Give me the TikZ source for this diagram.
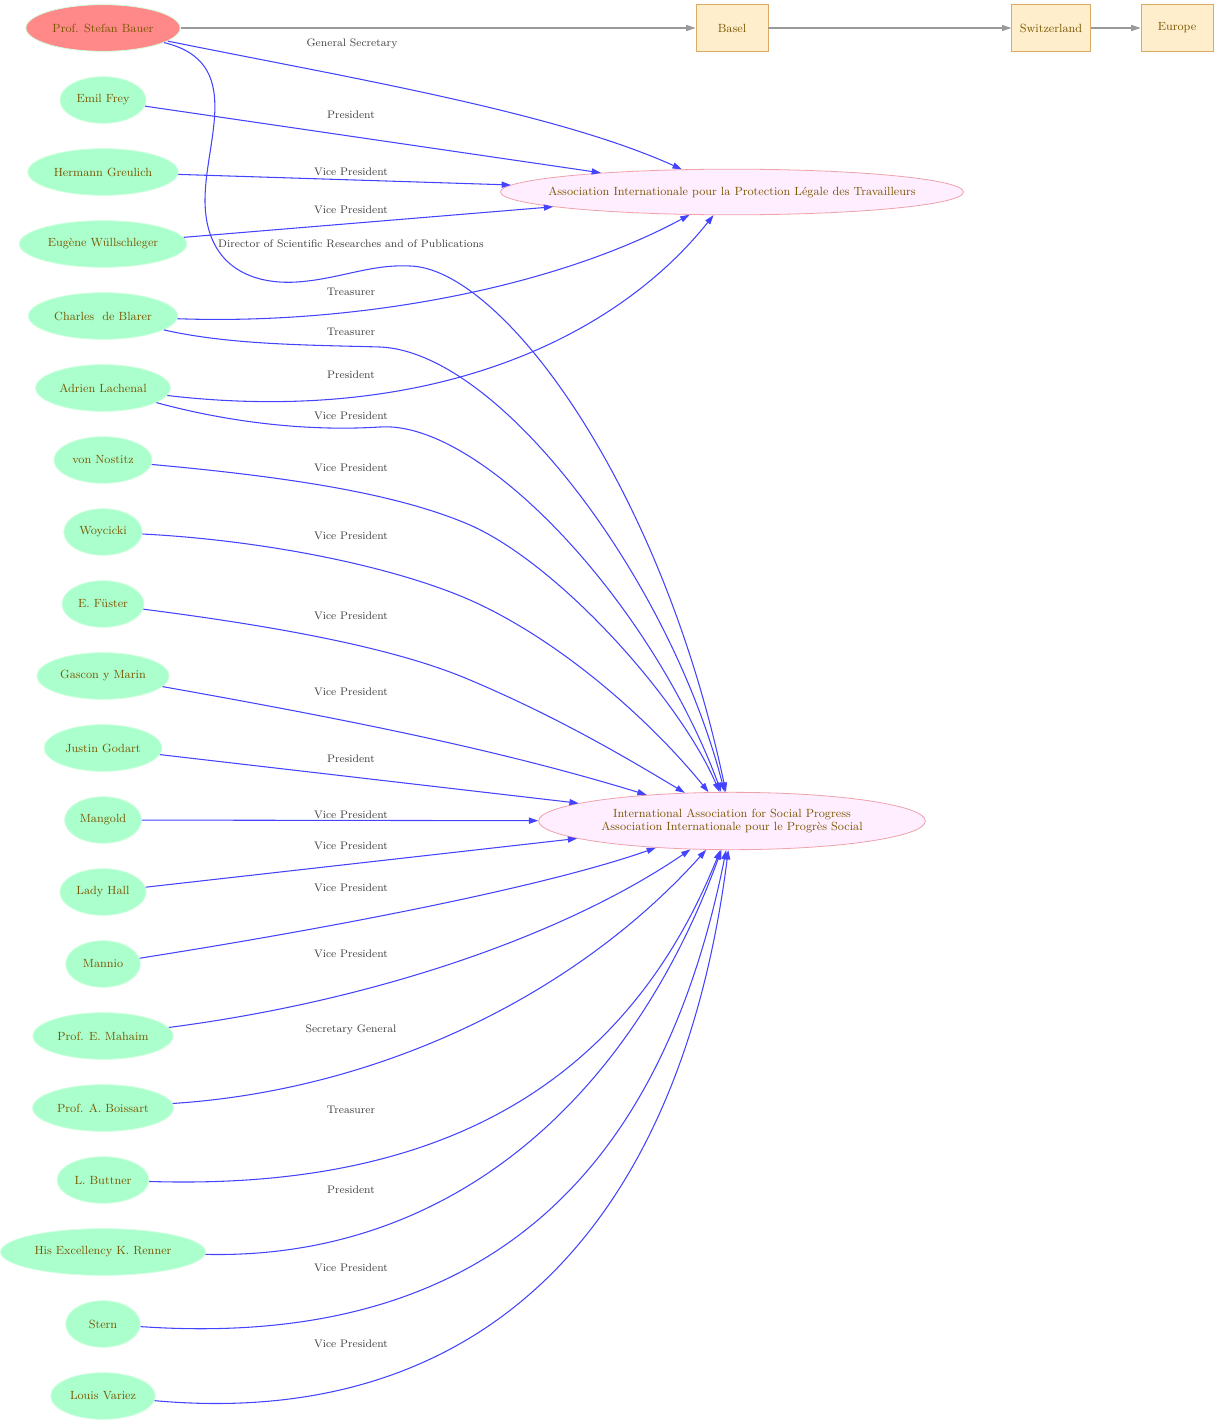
\documentclass[tikz,border=0pt]{standalone}
\usepackage{tikz}
\usetikzlibrary{positioning}
\usetikzlibrary{shapes.geometric}
\usetikzlibrary{arrows.meta}
\definecolor{persfill}{HTML}{AAFFCC}
\definecolor{persline}{HTML}{D2FFE0}
\definecolor{chieffill}{HTML}{FF8888}
\definecolor{orgfill}{HTML}{FFEEFF}
\definecolor{orgline}{HTML}{EEA2AA}
\definecolor{placefill}{HTML}{FFEECC}
\definecolor{placeline}{HTML}{DDAA66}
\definecolor{nametext}{HTML}{7A5600}
\definecolor{labtext}{HTML}{404040}
\definecolor{roleblue}{HTML}{4444FF}
\definecolor{locgray}{HTML}{999999}
\tikzset{>={Triangle[length=7pt,width=4.6pt]}}
\tikzset{person/.style={ellipse, draw=persline, fill=persfill, line width=0.6pt, minimum width=56pt, minimum height=35pt, inner xsep=3pt, text=nametext, font=\fontsize{8.9}{10}\selectfont}}
\tikzset{chief/.style={person, fill=chieffill}}
\tikzset{org/.style={ellipse, draw=orgline, fill=orgfill, line width=0.6pt, align=center, text=nametext, font=\fontsize{8.9}{10}\selectfont}}
\tikzset{place/.style={rectangle, draw=placeline, fill=placefill, line width=0.7pt, minimum width=54pt, minimum height=35pt, inner xsep=6pt, text=nametext, font=\fontsize{8.9}{10}\selectfont}}
\tikzset{ed/.style={inner sep=1pt, text=labtext, font=\fontsize{8.2}{9}\selectfont}}
\tikzset{role/.style={->, draw=roleblue, line width=0.8pt}}
\tikzset{loc/.style={->, draw=locgray, line width=0.8pt}}
\begin{document}
\begin{tikzpicture}[x=0.75pt, y=-0.75pt, node distance=54pt]
\useasboundingbox (0,0) rectangle (1218,1427);

% people
\node (bauer) [chief] at (103,28) {Prof. Stefan Bauer};
\node (frey) [person, below of=bauer] {Emil Frey};
\node (greulich) [person, below of=frey] {Hermann Greulich};
\node (wuell) [person, below of=greulich] {Eugène Wüllschleger};
\node (blarer) [person, below of=wuell] {Charles~ de Blarer};
\node (lachenal) [person, below of=blarer] {Adrien Lachenal};
\node (nostitz) [person, below of=lachenal] {von Nostitz};
\node (woycicki) [person, below of=nostitz] {Woycicki};
\node (fuester) [person, below of=woycicki] {E. Füster};
\node (gascon) [person, below of=fuester] {Gascon y Marin};
\node (godart) [person, below of=gascon] {Justin Godart};
\node (mangold) [person, below of=godart] {Mangold};
\node (hall) [person, below of=mangold] {Lady Hall};
\node (mannio) [person, below of=hall] {Mannio};
\node (mahaim) [person, below of=mannio] {Prof. E. Mahaim};
\node (boissart) [person, below of=mahaim] {Prof. A. Boissart};
\node (buttner) [person, below of=boissart] {L. Buttner};
\node (renner) [person, below of=buttner] {His Excellency K. Renner};
\node (stern) [person, below of=renner] {Stern};
\node (variez) [person, below of=stern] {Louis Variez};

% places and associations
\node (basel) [place] at (732,28) {Basel};
\node (swiss) [place] at (1051,28) {Switzerland};
\node (europe) [place] at (1177,28) {Europe};
\node (aplt) [org, inner xsep=-15pt, inner ysep=8pt] at (732,192) {Association Internationale pour la Protection Légale des Travailleurs};
\node (iasp) [org, inner xsep=4.5pt, inner ysep=6pt, minimum height=43pt] at (732,821) {International Association for Social Progress\\Association Internationale pour le Progrès Social};

\draw[loc] (bauer) -- (basel);
\draw[loc] (basel) -- (swiss);
\draw[loc] (swiss) -- (europe);

% roles in the first association
\draw[role] (bauer) .. controls (350,78) and (555,112) .. (aplt);
\draw[role] (frey) -- (aplt);
\draw[role] (greulich) -- (aplt);
\draw[role] (wuell) -- (aplt);
\draw[role] (blarer) .. controls (350,325) and (550,290) .. (aplt);
\draw[role] (lachenal) .. controls (420,425) and (610,345) .. (aplt);

% roles in the second association
\draw[role] (bauer) .. controls (245,62) and (205,140) .. (205,200) .. controls (205,265) and (250,285) .. (297,282) .. controls (340,279) and (370,264) .. (410,266) .. controls (500,268) and (660,480) .. (iasp);
\draw[role] (blarer) .. controls (230,345) and (310,345) .. (380,347) .. controls (500,352) and (670,580) .. (iasp);
\draw[role] (lachenal) .. controls (220,420) and (300,432) .. (380,427) .. controls (480,420) and (650,600) .. (iasp);
\draw[role] (nostitz) .. controls (300,478) and (400,495) .. (470,525) .. controls (560,565) and (680,700) .. (iasp);
\draw[role] (woycicki) .. controls (260,540) and (390,565) .. (470,600) .. controls (560,640) and (650,720) .. (iasp);
\draw[role] (fuester) .. controls (290,628) and (400,650) .. (470,680) .. controls (560,718) and (630,760) .. (iasp);
\draw[role] (gascon) .. controls (350,720) and (500,750) .. (iasp);
\draw[role] (godart) -- (iasp);
\draw[role] (mangold) -- (iasp);
\draw[role] (hall) -- (iasp);
\draw[role] (mannio) .. controls (350,925) and (550,885) .. (iasp);
\draw[role] (mahaim) .. controls (380,1000) and (568,933) .. (iasp);
\draw[role] (boissart) .. controls (380,1090) and (576,995) .. (iasp);
\draw[role] (buttner) .. controls (420,1190) and (620,1100) .. (iasp);
\draw[role] (renner) .. controls (450,1260) and (630,1100) .. (iasp);
\draw[role] (stern) .. controls (480,1350) and (660,1180) .. (iasp);
\draw[role] (variez) .. controls (480,1430) and (680,1230) .. (iasp);

% role labels
\node (lsec) [ed] at (352,44) {General Secretary};
\node (lfrey) [ed] at (351,115) {President};
\node (lgreu) [ed] at (351,172) {Vice President};
\node (lwuel) [ed] at (351,210) {Vice President};
\node (ldir) [ed] at (351,244) {Director of Scientific Researches and of Publications};
\node (lblar) [ed] at (351,292) {Treasurer};
\node (lblar2) [ed] at (351,332) {Treasurer};
\node (llach) [ed] at (351,375) {President};
\node (llach2) [ed] at (351,416) {Vice President};
\node (lnost) [ed] at (351,468) {Vice President};
\node (lwoyc) [ed] at (351,536) {Vice President};
\node (lfues) [ed] at (351,616) {Vice President};
\node (lgasc) [ed] at (351,692) {Vice President};
\node (lgoda) [ed] at (351,759) {President};
\node (lmang) [ed] at (351,815) {Vice President};
\node (lhall) [ed] at (351,846) {Vice President};
\node (lmann) [ed] at (351,888) {Vice President};
\node (lmaha) [ed] at (351,954) {Vice President};
\node (lbois) [ed] at (351,1030) {Secretary General};
\node (lbutt) [ed] at (351,1110) {Treasurer};
\node (lrenn) [ed] at (351,1190) {President};
\node (lster) [ed] at (351,1268) {Vice President};
\node (lvari) [ed] at (351,1344) {Vice President};
\end{tikzpicture}
\end{document}
